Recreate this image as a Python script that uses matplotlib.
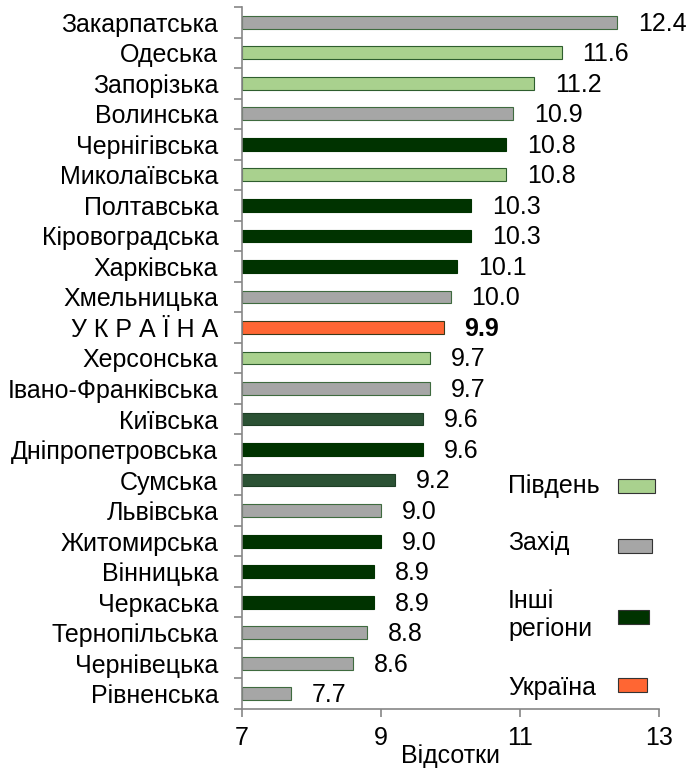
import matplotlib
matplotlib.use('Agg')
import matplotlib.pyplot as plt
from matplotlib.patches import Rectangle

regions = ['Закарпатська', 'Одеська', 'Запорізька', 'Волинська', 'Чернігівська',
           'Миколаївська', 'Полтавська', 'Кіровоградська', 'Харківська',
           'Хмельницька', 'У К Р А Ї Н А', 'Херсонська', 'Івано-Франківська',
           'Київська', 'Дніпропетровська', 'Сумська', 'Львівська', 'Житомирська',
           'Вінницька', 'Черкаська', 'Тернопільська', 'Чернівецька', 'Рівненська']
values = [12.4, 11.6, 11.2, 10.9, 10.8, 10.8, 10.3, 10.3, 10.1, 10.0, 9.9, 9.7,
          9.7, 9.6, 9.6, 9.2, 9.0, 9.0, 8.9, 8.9, 8.8, 8.6, 7.7]
groups = ['west', 'south', 'south', 'west', 'other', 'south', 'other', 'other',
          'other', 'west', 'ukraine', 'south', 'west', 'other2', 'other', 'other2',
          'west', 'other', 'other', 'other', 'west', 'west', 'west']

colors = {'south': '#a9d18e', 'west': '#a6a6a6', 'other': '#003300',
          'other2': '#2b5234', 'ukraine': '#ff6633'}
edges = {'south': '#2e5e2e', 'west': '#3f6b3f', 'other': '#003300',
         'other2': '#1e3f25', 'ukraine': '#3a3a1a'}

legend_labels = ['Південь', 'Захід', 'Інші\nрегіони', 'Україна']
legend_groups = ['south', 'west', 'other', 'ukraine']

plt.rcParams['font.family'] = ['Liberation Sans', 'DejaVu Sans']
plt.rcParams['font.size'] = 18

W, H = 689, 769
fig = plt.figure(figsize=(W / 100, H / 100), dpi=100)
ax = fig.add_axes([242 / W, 1 - 709 / H, (659 - 242) / W, (709 - 7) / H])

pos = list(range(len(regions)))
ax.barh(pos, [v - 7 for v in values], left=7, height=0.42,
        color=[colors[g] for g in groups],
        edgecolor=[edges[g] for g in groups], linewidth=0.8)

for p, v, g in zip(pos, values, groups):
    ax.annotate(f'{v:.1f}', xy=(v, p), xytext=(15, -1), textcoords='offset points',
                ha='left', va='center', fontsize=18,
                fontweight='bold' if g == 'ukraine' else 'normal')

ax.set_xlim(7, 13)
ax.set_ylim(len(regions) - 0.5, -0.5)
ax.set_xticks([7, 9, 11, 13])
ax.set_yticks(pos)
ax.set_yticklabels(regions)
ax.set_yticks([p - 0.5 for p in pos] + [len(regions) - 0.5], minor=True)
ax.tick_params(axis='y', which='major', length=0, pad=17)
ax.tick_params(axis='y', which='minor', length=6, color='#868686', width=1.2)
ax.tick_params(axis='x', length=6, color='#868686', width=1.2, pad=6)

for s in ['top', 'right']:
    ax.spines[s].set_visible(False)
for s in ['left', 'bottom']:
    ax.spines[s].set_color('#868686')
    ax.spines[s].set_linewidth(1.2)

ax.set_xlabel('Відсотки', fontsize=18, labelpad=-4)

# legend drawn by hand: text on the left, small box on the right
text_y = [486, 543, 615, 688]
box_y = [486, 546, 617, 685]
box_w = [37, 34, 31, 29]
for lab, g, ty, by, bw in zip(legend_labels, legend_groups, text_y, box_y, box_w):
    fig.text(508 / W, 1 - ty / H, lab, ha='left', va='center', fontsize=18,
             linespacing=1.2)
    fig.patches.append(Rectangle((618 / W, 1 - (by + 7) / H), bw / W, 14 / H,
                                 transform=fig.transFigure, facecolor=colors[g],
                                 edgecolor='#333333', linewidth=0.8))

fig.savefig('out.png', dpi=100)
